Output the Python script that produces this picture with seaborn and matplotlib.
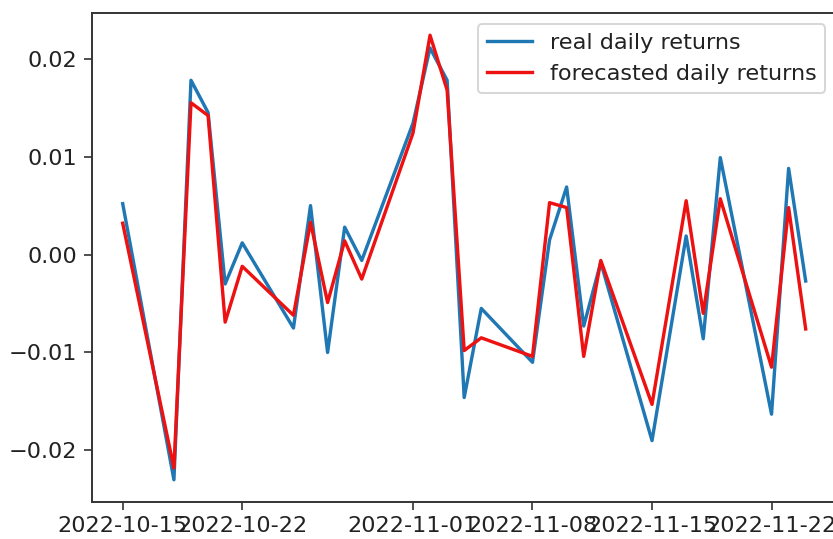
import numpy as np
import pandas as pd
import matplotlib
matplotlib.use("Agg")
import matplotlib.pyplot as plt
import matplotlib.dates as mdates
import seaborn as sns

# Trading days covered by the forecast window
dates = [
    "2022-10-15", "2022-10-18", "2022-10-19", "2022-10-20", "2022-10-21",
    "2022-10-22", "2022-10-25", "2022-10-26", "2022-10-27", "2022-10-28",
    "2022-10-29", "2022-11-01", "2022-11-02", "2022-11-03", "2022-11-04",
    "2022-11-05", "2022-11-08", "2022-11-09", "2022-11-10", "2022-11-11",
    "2022-11-12", "2022-11-15", "2022-11-17", "2022-11-18", "2022-11-19",
    "2022-11-22", "2022-11-23", "2022-11-24",
]

# Observed daily returns
real_returns = [
    0.0052, -0.0230, 0.0178, 0.0145, -0.0030,
    0.0012, -0.0075, 0.0050, -0.0100, 0.0028,
    -0.0006, 0.0134, 0.0211, 0.0178, -0.0146,
    -0.0055, -0.0110, 0.0015, 0.0069, -0.0073,
    -0.0008, -0.0190, 0.0019, -0.0086, 0.0099,
    -0.0163, 0.0088, -0.0027,
]

# Model forecasts for the same days
forecast_returns = [
    0.0032, -0.0218, 0.0155, 0.0142, -0.0069,
    -0.0012, -0.0062, 0.0033, -0.0049, 0.0014,
    -0.0025, 0.0124, 0.0224, 0.0168, -0.0098,
    -0.0085, -0.0104, 0.0053, 0.0048, -0.0104,
    -0.0006, -0.0153, 0.0055, -0.0060, 0.0057,
    -0.0115, 0.0048, -0.0076,
]

df = pd.DataFrame({
    "date": pd.to_datetime(dates),
    "real": real_returns,
    "forecast": forecast_returns,
})

plt.rcParams.update({
    "font.size": 11.6,
    "lines.linewidth": 1.75,
    "axes.linewidth": 1.0,
    "xtick.major.size": 4,
    "ytick.major.size": 4,
    "axes.edgecolor": "#333333",
    "text.color": "#222222",
    "xtick.color": "#222222",
    "ytick.color": "#222222",
})

dpi = 138.8333
fig = plt.figure(figsize=(833 / dpi, 539 / dpi), dpi=dpi)
ax = fig.add_axes([0.1104, 0.0686, 0.8937, 0.9073])

sns.lineplot(data=df, x="date", y="real", ax=ax, color="#1f77b4",
             label="real daily returns")
sns.lineplot(data=df, x="date", y="forecast", ax=ax, color="#ee1111",
             label="forecasted daily returns")

ax.margins(x=0.045, y=0.05)
ax.set_xlabel("")
ax.set_ylabel("")
ax.xaxis.set_major_locator(mdates.DayLocator(bymonthday=[1, 8, 15, 22]))
ax.xaxis.set_major_formatter(mdates.DateFormatter("%Y-%m-%d"))
ax.set_yticks([-0.02, -0.01, 0.0, 0.01, 0.02])
ax.legend(loc="upper right")

fig.savefig("out.png", dpi=dpi)
